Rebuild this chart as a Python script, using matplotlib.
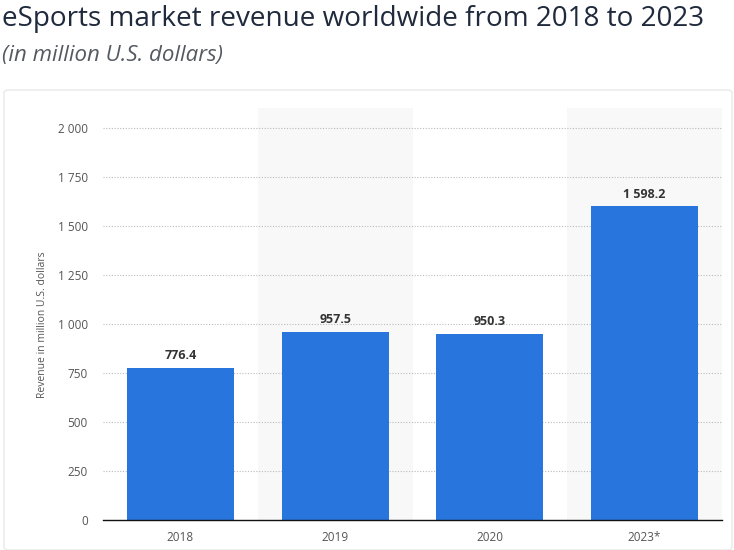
import matplotlib.pyplot as plt
from matplotlib.patches import FancyBboxPatch
import numpy as np

years = ["2018", "2019", "2020", "2023*"]
revenue = [776.4, 957.5, 950.3, 1598.2]
yticks = [0, 250, 500, 750, 1000, 1250, 1500, 1750, 2000]


def fmt(v, dec=0):
    s = f"{v:,.{dec}f}"
    return s.replace(",", " ")


plt.rcParams['font.family'] = ['Open Sans', 'DejaVu Sans']

fig = plt.figure(figsize=(7.34, 5.5), dpi=100)
fig.patch.set_facecolor('white')

# panel behind the chart
panel = FancyBboxPatch((4 / 734, 0.0), 728 / 734, 460 / 550,
                       boxstyle="round,pad=0,rounding_size=0.006",
                       transform=fig.transFigure, facecolor='white',
                       edgecolor='#ececec', linewidth=1.2, zorder=-10)
fig.patches.append(panel)

fig.text(2 / 734, 1 - 19 / 550, "eSports market revenue worldwide from 2018 to 2023",
         fontsize=20.1, color='#1f2a3c', va='center', ha='left')
fig.text(2 / 734, 1 - 55 / 550, "(in million U.S. dollars)",
         fontsize=16, color='#555a62', va='center', ha='left', style='italic')

ax = fig.add_axes([103 / 734, 30 / 550, 619 / 734, 412 / 550])
ax.set_facecolor('none')
x = np.arange(len(years))

# alternating column shading
for i in range(len(years)):
    if i % 2 == 1:
        ax.axvspan(i - 0.5, i + 0.5, color='#f8f8f8', zorder=0, lw=0)

ax.bar(x, revenue, width=0.69, color='#2876dd', zorder=3)

for xi, v in zip(x, revenue):
    ax.text(xi, v + 30, fmt(v, 1), ha='center', va='bottom', fontsize=9,
            fontweight='bold', color='#333333', zorder=4)

ax.set_xlim(-0.5, len(years) - 0.5)
ax.set_ylim(0, 2100)
ax.set_yticks(yticks)
ax.set_yticklabels([fmt(t) for t in yticks])
ax.set_xticks(x)
ax.set_xticklabels(years)
ax.tick_params(axis='both', length=0, labelsize=8.5, colors='#555555')
ax.tick_params(axis='y', pad=11)
ax.tick_params(axis='x', pad=8)

ax.grid(axis='y', linestyle=(0, (1, 1.5)), color='#bbbbbb', linewidth=0.8, zorder=1)
for s in ['top', 'right', 'left']:
    ax.spines[s].set_visible(False)
ax.spines['bottom'].set_color('#111111')
ax.spines['bottom'].set_linewidth(1.0)
ax.spines['bottom'].set_zorder(5)

ax.set_ylabel("Revenue in million U.S. dollars", fontsize=7.5, color='#555555')
ax.yaxis.set_label_coords(-0.089, 0.4745)

fig.savefig("out.png", dpi=100, facecolor='white')
